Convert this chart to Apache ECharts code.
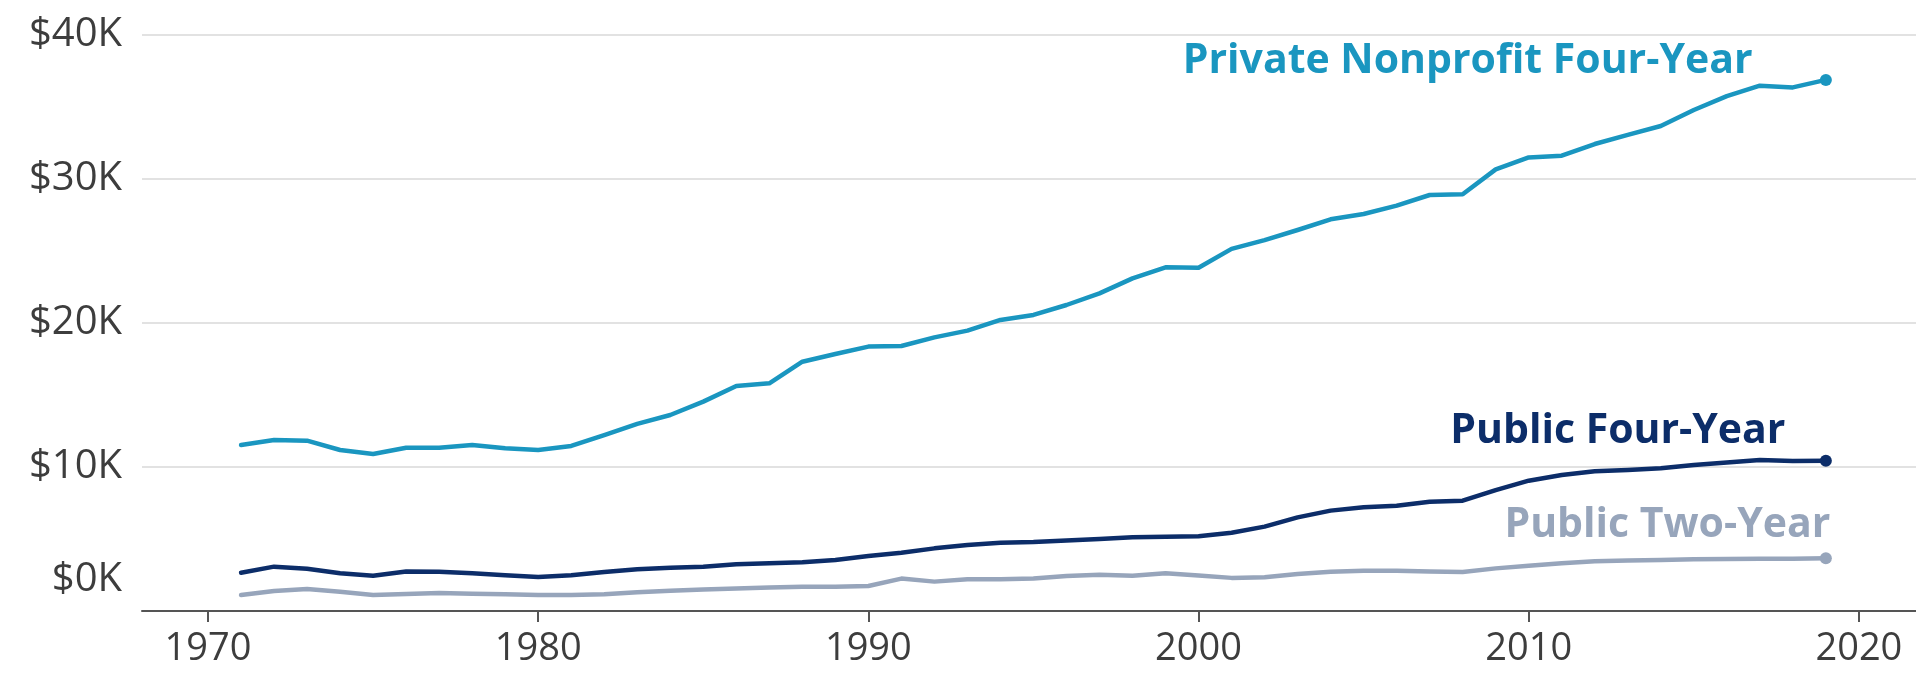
<!DOCTYPE html>
<html>
<head>
<meta charset="utf-8">
<script src="https://cdn.jsdelivr.net/npm/echarts@6/dist/echarts.min.js"></script>
<style>
  html, body { margin: 0; padding: 0; background: #ffffff; }
  #chart { width: 1916px; height: 676px; }
</style>
</head>
<body>
<div id="chart"></div>
<script>
// Academic years (fall of year), 1971 .. 2019
const years = [1971,1972,1973,1974,1975,1976,1977,1978,1979,1980,
               1981,1982,1983,1984,1985,1986,1987,1988,1989,1990,
               1991,1992,1993,1994,1995,1996,1997,1998,1999,2000,
               2001,2002,2003,2004,2005,2006,2007,2008,2009,2010,
               2011,2012,2013,2014,2015,2016,2017,2018,2019];

// Published tuition and fees, thousands of dollars
const privateNonprofit = [11.53,11.88,11.83,11.18,10.90,11.34,11.34,11.53,11.30,11.18,
                          11.46,12.22,13.00,13.61,14.54,15.62,15.81,17.31,17.85,18.36,
                          18.40,19.00,19.47,20.21,20.56,21.25,22.06,23.10,23.87,23.84,
                          25.15,25.76,26.46,27.20,27.57,28.15,28.89,28.94,30.67,31.50,
                          31.62,32.43,33.06,33.68,34.79,35.76,36.48,36.36,36.88];

const publicFourYear = [2.66,3.08,2.94,2.62,2.45,2.75,2.73,2.62,2.48,2.36,
                        2.48,2.71,2.90,3.00,3.08,3.24,3.31,3.38,3.54,3.82,
                        4.05,4.35,4.58,4.74,4.79,4.90,5.00,5.12,5.16,5.19,
                        5.44,5.86,6.50,6.97,7.20,7.31,7.59,7.66,8.40,9.05,
                        9.44,9.70,9.79,9.91,10.14,10.32,10.49,10.42,10.44];

const publicTwoYear = [1.11,1.39,1.53,1.34,1.11,1.18,1.25,1.20,1.16,1.11,
                       1.11,1.16,1.30,1.41,1.50,1.57,1.64,1.69,1.69,1.74,
                       2.25,2.04,2.20,2.20,2.25,2.43,2.52,2.45,2.62,2.47,
                       2.30,2.34,2.57,2.73,2.80,2.80,2.75,2.71,2.96,3.15,
                       3.31,3.45,3.50,3.54,3.59,3.61,3.63,3.63,3.66];

const seriesNames = ['Private Nonprofit Four-Year', 'Public Four-Year', 'Public Two-Year'];
const xTickValues = [1970, 1980, 1990, 2000, 2010, 2020];

// label anchor positions in data coordinates [year, $K]
const labelAnchors = [[2008.15, 38.2], [2012.7, 12.5], [2014.2, 5.97]];

const colors = ['#1a96c0', '#0c2d69', '#97a5bb'];
const FONT = '"Open Sans", Lato, sans-serif';

function pairs(vals) { return years.map((y, i) => [y, vals[i]]); }
const lastIdx = years.length - 1;

function makeSeries(name, vals, color, anchor) {
  return {
    name: name,
    type: 'line',
    data: pairs(vals),
    symbol: 'circle',
    showSymbol: true,
    showAllSymbol: true,
    symbolSize: (v, p) => p.dataIndex === lastIdx ? 12 : 0,
    itemStyle: { color: color },
    lineStyle: { color: color, width: 4.5, cap: 'round', join: 'round' },
    silent: true,
    markPoint: {
      symbol: 'circle',
      symbolSize: 0,
      silent: true,
      data: [{ coord: anchor, value: name }],
      label: {
        show: true,
        position: 'inside',
        formatter: name,
        color: color,
        fontFamily: FONT,
        fontWeight: 'bold',
        fontSize: 41
      }
    }
  };
}

const chart = echarts.init(document.getElementById('chart'), null, { renderer: 'canvas' });
chart.setOption({
  backgroundColor: '#ffffff',
  animation: false,
  grid: { left: 142, right: 0, top: 35, bottom: 65, containLabel: false },
  xAxis: {
    type: 'value',
    min: 1968,
    max: 2021.73,
    splitLine: { show: false },
    axisLine: { show: true, lineStyle: { color: '#555555', width: 2 } },
    axisTick: { show: true, length: 11, customValues: xTickValues, lineStyle: { color: '#555555', width: 2 } },
    axisLabel: {
      customValues: xTickValues,
      margin: 19,
      color: '#3d3d3d',
      fontFamily: FONT,
      fontSize: 38,
      formatter: v => String(v)
    }
  },
  yAxis: {
    type: 'value',
    min: 0,
    max: 40,
    interval: 10,
    axisLine: { show: false },
    axisTick: { show: false },
    splitLine: { show: true, lineStyle: { color: '#e2e2e2', width: 2 } },
    axisLabel: {
      margin: 20,
      color: '#3d3d3d',
      fontFamily: FONT,
      fontSize: 40,
      formatter: v => v === 0 ? '{z|$0K}' : '{n|$' + v + 'K}',
      rich: {
        z: { fontFamily: FONT, fontSize: 40, color: '#3d3d3d', padding: [0, 0, 62, 0] },
        n: { fontFamily: FONT, fontSize: 40, color: '#3d3d3d' }
      }
    }
  },
  series: [
    makeSeries(seriesNames[2], publicTwoYear, colors[2], labelAnchors[2]),
    makeSeries(seriesNames[1], publicFourYear, colors[1], labelAnchors[1]),
    makeSeries(seriesNames[0], privateNonprofit, colors[0], labelAnchors[0])
  ]
});
</script>
</body>
</html>
